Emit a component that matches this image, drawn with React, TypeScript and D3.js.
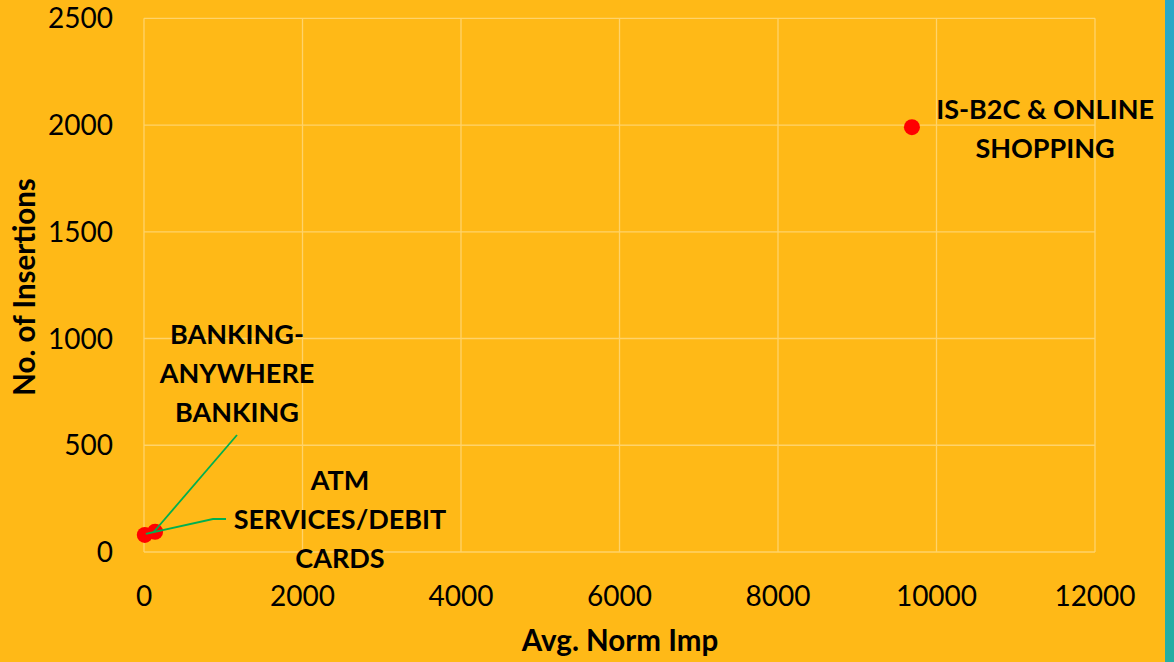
import React from "react";
import * as d3 from "d3";

const categories = ["IS-B2C & ONLINE SHOPPING", "ATM SERVICES/DEBIT CARDS", "BANKING-ANYWHERE BANKING"];
const avgNormImp = [9690, 10, 140];
const insertions = [1990, 80, 95];
const xTicks = [0, 2000, 4000, 6000, 8000, 10000, 12000];
const yTicks = [0, 500, 1000, 1500, 2000, 2500];

const labelLines = [["IS-B2C & ONLINE", "SHOPPING"], ["ATM", "SERVICES/DEBIT", "CARDS"], ["BANKING-", "ANYWHERE", "BANKING"]];
// label anchor positions in data units (center x, first baseline y)
const labelPos = [
  [11370, 2030],
  [2473, 292],
  [1173, 972],
];

const W = 1174, H = 662;
const FONT = "Lato, 'Open Sans', sans-serif";

export default function App() {
  const x = d3.scaleLinear().domain([0, 12000]).range([144, 1095]);
  const y = d3.scaleLinear().domain([0, 2500]).range([552, 18.3]);
  const lh = 39;
  return (
    <svg width={W} height={H} style={{ position: "absolute", left: 0, top: 0 }}>
      <defs>
        <linearGradient id="teal" x1="0" y1="0" x2="0" y2="1">
          <stop offset="0" stopColor="#2AA8C8" />
          <stop offset="1" stopColor="#24AEA3" />
        </linearGradient>
      </defs>
      <rect x={0} y={0} width={W} height={H} fill="#FFB917" />
      <rect x={1165} y={0} width={9} height={H} fill="url(#teal)" />
      {xTicks.map((t) => (
        <line key={"gx" + t} x1={x(t)} x2={x(t)} y1={y(0)} y2={y(2500)} stroke="#FFD36A" strokeWidth={1.3} />
      ))}
      {yTicks.map((t) => (
        <line key={"gy" + t} x1={x(0)} x2={x(12000)} y1={y(t)} y2={y(t)} stroke="#FFD36A" strokeWidth={1.3} />
      ))}
      {xTicks.map((t) => (
        <text key={"tx" + t} x={x(t)} y={606} textAnchor="middle" fontFamily={FONT} fontSize={28} fill="#000">{t}</text>
      ))}
      {yTicks.map((t) => (
        <text key={"ty" + t} x={113} y={y(t) + 10} textAnchor="end" fontFamily={FONT} fontSize={28} fill="#000">{t}</text>
      ))}
      <text x={620} y={651} textAnchor="middle" fontFamily={FONT} fontWeight="bold" fontSize={29.5} fill="#000">Avg. Norm Imp</text>
      <text transform={`translate(35,287) rotate(-90)`} textAnchor="middle" fontFamily={FONT} fontWeight="bold" fontSize={29.5} fill="#000">No. of Insertions</text>
      {categories.map((c, i) => (
        <circle key={c} cx={x(avgNormImp[i])} cy={y(insertions[i])} r={8} fill="#FF0000" />
      ))}
      {/* leader lines */}
      <path d={`M${x(avgNormImp[2]) - 2},${y(insertions[2]) + 1} L237,435`} stroke="#00B050" strokeWidth={1.8} fill="none" />
      <path d={`M${x(avgNormImp[1]) + 1},${y(insertions[1]) - 1} L213,519 L226,519`} stroke="#00B050" strokeWidth={1.8} fill="none" />
      {labelLines.map((lines, i) => (
        <text key={"l" + i} fontFamily={FONT} fontWeight="bold" fontSize={27} fill="#000" textAnchor="middle">
          {lines.map((s, j) => (
            <tspan key={j} x={x(labelPos[i][0])} y={y(labelPos[i][1]) + j * lh}>{s}</tspan>
          ))}
        </text>
      ))}
    </svg>
  );
}
